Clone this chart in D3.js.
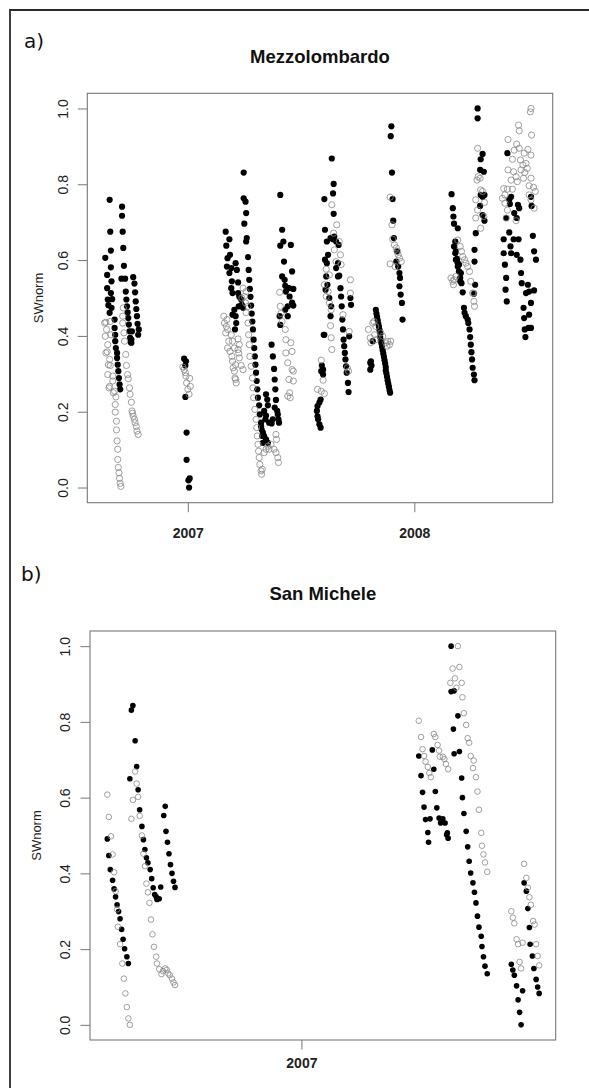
<!DOCTYPE html>
<html>
<head>
<meta charset="utf-8">
<script src="https://cdn.jsdelivr.net/npm/d3@7"></script>
<style>
  html, body { margin: 0; padding: 0; background: #fff; }
  svg { display: block; }
</style>
</head>
<body>
<svg id="chart" width="589" height="1088"></svg>
<script>
// Daily normalised soil water (SWnorm). Each point: [days since 2007-01-01, value].
// Filled = first sensor depth, open = second sensor depth.

const mezzolombardoFilled = [
  [-126,0.759],[-125,0.675],[-124,0.625],[-133,0.606],[-124,0.581],[-130,0.561],[-123,0.544],[-130,0.526],[-124,0.513],[-129,0.496],[-122,0.497],[-128,0.481],[-123,0.474],[-126,0.461],[-118,0.443],[-118,0.421],[-117,0.403],[-117,0.386],[-116,0.368],[-114,0.355],[-114,0.342],[-113,0.324],[-112,0.307],[-111,0.289],[-110,0.272],[-109,0.259],
  [-106,0.741],[-106,0.717],[-105,0.675],[-104,0.632],[-103,0.585],[-107,0.551],[-101,0.551],[-100,0.517],[-99,0.496],[-98,0.478],[-97,0.462],[-96,0.447],[-95,0.430],[-94,0.412],[-93,0.395],[-92,0.383],
  [-88,0.555],[-86,0.538],[-85,0.515],[-84,0.491],[-83,0.471],[-82,0.452],[-81,0.432],[-79,0.417],[-80,0.403],[-90,0.412],[-91,0.390],[-91,0.382],
  [-6,0.340],[-3,0.333],[-4,0.322],[-4,0.239],[-2,0.145],[-2,0.073],[3,0.024],[1,0.019],[2,0.0],
  [61,0.675],[67,0.655],[62,0.638],[68,0.614],[64,0.605],[63,0.583],[70,0.579],[67,0.566],[77,0.592],[79,0.574],[81,0.541],[71,0.544],[70,0.526],[72,0.513],[81,0.513],[83,0.503],[86,0.496],[87,0.482],[82,0.478],[89,0.474],[75,0.469],[72,0.456],[77,0.452],[78,0.434],[76,0.417],
  [90,0.831],[90,0.763],[93,0.754],[94,0.724],[91,0.696],[95,0.658],[94,0.649],[97,0.608],[98,0.574],[99,0.548],[100,0.524],[101,0.503],[102,0.480],[103,0.459],[104,0.438],[105,0.417],[106,0.390],[107,0.368],[108,0.346],[109,0.324],[110,0.303],[111,0.281],[112,0.259],[113,0.237],[115,0.217],[116,0.193],[118,0.171],[119,0.153],[120,0.136],[121,0.118],
  [135,0.377],[137,0.346],[139,0.313],[140,0.285],[141,0.259],[142,0.231],[140,0.211],[144,0.202],[145,0.193],[146,0.180],[147,0.171],[137,0.180],[135,0.169],[126,0.246],[128,0.232],[129,0.217],[123,0.202],[126,0.190],[125,0.180],[131,0.171],[118,0.162],[121,0.145],[123,0.136],[126,0.127],[129,0.118],
  [149,0.772],[152,0.680],[154,0.649],[149,0.638],[166,0.640],[155,0.596],[168,0.570],[152,0.557],[156,0.548],[157,0.532],[163,0.526],[170,0.524],[158,0.517],[164,0.504],[168,0.488],[170,0.480],[161,0.478],[157,0.469],[148,0.452],[161,0.452],[149,0.429],
  [214,0.232],[212,0.224],[209,0.215],[208,0.202],[209,0.188],[210,0.180],[212,0.167],[214,0.158],[216,0.322],[218,0.311],[218,0.298],[215,0.307],[219,0.403],
  [232,0.868],[235,0.801],[234,0.776],[220,0.761],[235,0.722],[221,0.680],[224,0.649],[230,0.658],[234,0.655],[236,0.662],[239,0.649],[243,0.640],[226,0.614],[221,0.601],[224,0.592],[242,0.592],[239,0.579],[242,0.557],[244,0.559],[223,0.557],[225,0.535],[222,0.522],[228,0.500],[231,0.478],[230,0.452],[220,0.403],[246,0.526],[247,0.504],[248,0.478],[249,0.443],[250,0.417],[251,0.390],[252,0.373],[253,0.355],[254,0.338],[255,0.320],[256,0.303],[258,0.276],[259,0.252],[262,0.500],[263,0.482],[260,0.399],
  [298,0.386],[295,0.333],[296,0.322],[294,0.311],[294,0.329],
  [303,0.469],[304,0.459],[305,0.450],[306,0.441],[307,0.432],[308,0.424],[309,0.415],[310,0.406],[310,0.397],[311,0.388],[312,0.380],[313,0.371],[314,0.362],[315,0.353],[316,0.345],[317,0.336],[318,0.327],[319,0.318],[319,0.309],[320,0.301],[321,0.292],[322,0.283],[323,0.274],[324,0.266],[325,0.257],[326,0.250],
  [328,0.953],[327,0.927],[329,0.831],[330,0.761],[331,0.704],[332,0.658],[337,0.623],[336,0.596],[339,0.583],[341,0.566],[342,0.553],[341,0.531],[343,0.509],[345,0.487],[346,0.443],
  [425,0.774],[427,0.737],[428,0.715],[429,0.696],[435,0.684],[431,0.649],[432,0.623],[434,0.603],[435,0.583],[437,0.570],[439,0.553],[443,0.515],[445,0.474],[446,0.461],[448,0.452],[451,0.443],[452,0.434],[454,0.417],[455,0.397],[456,0.377],[457,0.357],[458,0.338],[459,0.316],[461,0.298],[462,0.283],
  [429,0.636],[431,0.618],[432,0.601],[435,0.592],[437,0.588],[440,0.566],[439,0.544],[441,0.539],
  [467,1.0],[467,0.974],[475,0.880],[472,0.866],[471,0.838],[477,0.833],[472,0.772],[475,0.767],[478,0.772],[471,0.743],[475,0.719],[478,0.704],[464,0.671],[462,0.627],[462,0.596],[463,0.535],[461,0.511],
  [515,0.882],[521,0.767],[518,0.759],[513,0.711],[519,0.748],[532,0.746],[534,0.737],[526,0.724],[530,0.711],[553,0.767],[554,0.743],[509,0.655],[518,0.673],[520,0.636],[525,0.655],[533,0.655],[509,0.618],[521,0.618],[530,0.614],[536,0.601],[556,0.664],[558,0.623],[561,0.601],[511,0.588],[513,0.553],[537,0.566],[538,0.539],[548,0.535],[545,0.513],[512,0.522],[514,0.491],[550,0.517],[558,0.520],[553,0.487],[541,0.474],[550,0.456],[542,0.447],[543,0.417],[549,0.421],[544,0.397],[553,0.421]
];

const mezzolombardoOpen = [
  [-132,0.436],[-125,0.438],[-134,0.434],[-133,0.399],[-131,0.417],[-124,0.403],[-129,0.377],[-130,0.358],[-132,0.355],[-126,0.338],[-128,0.324],[-125,0.322],[-129,0.298],[-121,0.294],[-121,0.281],[-126,0.267],[-127,0.263],[-120,0.250],[-118,0.254],[-116,0.239],[-117,0.219],[-117,0.199],[-115,0.175],[-115,0.152],[-114,0.123],[-113,0.101],[-113,0.074],[-112,0.053],[-111,0.039],[-110,0.024],[-109,0.011],[-108,0.003],
  [-105,0.452],[-104,0.474],[-105,0.434],[-103,0.408],[-102,0.386],[-100,0.351],[-99,0.322],[-97,0.298],[-96,0.287],[-94,0.263],[-93,0.246],[-91,0.225],[-90,0.202],[-89,0.196],[-88,0.188],[-86,0.180],[-85,0.171],[-83,0.161],[-82,0.149],[-80,0.140],
  [-8,0.318],[-6,0.311],[-4,0.303],[-3,0.294],[3,0.288],[-2,0.276],[4,0.267],[0,0.259],[2,0.246],
  [58,0.452],[63,0.443],[59,0.434],[62,0.425],[64,0.417],[61,0.408],[70,0.403],[66,0.386],[72,0.386],[81,0.392],[83,0.377],[64,0.368],[75,0.368],[68,0.359],[81,0.364],[82,0.355],[71,0.346],[83,0.342],[72,0.333],[77,0.324],[86,0.322],[73,0.316],[89,0.311],[75,0.307],[76,0.289],[77,0.285],[78,0.276],
  [89,0.526],[94,0.517],[91,0.504],[87,0.500],[93,0.487],[97,0.478],[94,0.461],
  [97,0.434],[98,0.403],[99,0.377],[100,0.346],[102,0.320],[104,0.289],[105,0.263],[106,0.237],[108,0.206],[110,0.180],[111,0.158],[112,0.136],[113,0.114],[114,0.096],[115,0.079],[116,0.061],[118,0.044],[119,0.035],[120,0.048],
  [123,0.092],[126,0.101],[129,0.109],[131,0.101],[134,0.114],[139,0.101],[142,0.092],[145,0.079],[146,0.066],[142,0.140],[143,0.127],
  [148,0.515],[149,0.478],[150,0.459],[152,0.438],[157,0.417],[158,0.390],[166,0.382],[158,0.355],[168,0.359],[161,0.329],[168,0.311],[170,0.307],[163,0.285],[170,0.281],[164,0.250],[161,0.241],[165,0.237],
  [215,0.336],[218,0.283],[209,0.259],[215,0.254],[220,0.248],
  [232,0.746],[240,0.693],[235,0.671],[244,0.649],[236,0.627],[246,0.614],[239,0.596],[247,0.588],[223,0.576],[228,0.561],[220,0.535],[226,0.517],[223,0.504],[228,0.487],[231,0.469],[230,0.427],[231,0.395],[232,0.364],[250,0.456],[262,0.548],[262,0.513],[260,0.412],[259,0.307],[257,0.316],
  [291,0.417],[298,0.434],[294,0.395],[301,0.403],[295,0.382],[303,0.390],[322,0.386],[325,0.377],[327,0.386],[321,0.373],[300,0.438],[311,0.408],[303,0.425],[314,0.399],[319,0.382],
  [326,0.766],[329,0.693],[330,0.655],[333,0.640],[336,0.632],[338,0.623],[339,0.614],[341,0.605],[344,0.596],[326,0.590],[334,0.583],
  [424,0.553],[427,0.544],[429,0.548],[432,0.557],[428,0.535],[435,0.653],[439,0.636],[441,0.623],[443,0.609],[446,0.601],[448,0.592],[451,0.583],[454,0.570],[456,0.544],[459,0.513],[461,0.491],[462,0.478],
  [467,0.895],[468,0.820],[471,0.816],[466,0.811],[472,0.785],[475,0.781],[464,0.759],[467,0.732],[478,0.752],[464,0.711],[477,0.715],[472,0.684],[461,0.513],
  [553,1.0],[552,0.991],[533,0.956],[534,0.941],[554,0.930],[516,0.918],[530,0.906],[526,0.890],[534,0.895],[542,0.882],[548,0.892],[553,0.877],[523,0.866],[536,0.864],[540,0.851],[545,0.855],[547,0.842],[516,0.838],[525,0.833],[537,0.838],[543,0.831],[529,0.820],[521,0.811],[531,0.807],[553,0.816],[541,0.816],[509,0.789],[515,0.787],[511,0.772],[523,0.787],[550,0.796],[557,0.792],[560,0.781],[550,0.772],[553,0.759],[558,0.737],[507,0.763],[511,0.750],[515,0.732],[513,0.711],[529,0.704]
];

const sanMicheleFilled = [
  [-224,0.843],[-226,0.831],[-221,0.750],[-219,0.682],[-228,0.650],[-217,0.621],[-215,0.568],[-212,0.524],
  [-258,0.491],[-256,0.447],[-254,0.410],[-251,0.382],[-249,0.359],[-247,0.338],[-245,0.317],[-243,0.299],[-241,0.280],[-239,0.252],[-237,0.226],[-235,0.201],[-232,0.180],[-230,0.162],
  [-210,0.489],[-208,0.463],[-206,0.441],[-204,0.428],[-201,0.410],[-199,0.386],[-197,0.362],[-195,0.344],[-192,0.331],[-189,0.333],[-187,0.364],[-193,0.338],
  [-181,0.577],[-183,0.553],[-180,0.511],[-178,0.482],[-176,0.452],[-174,0.423],[-172,0.400],[-170,0.379],[-168,0.363],
  [199,1.0],[199,0.880],[203,0.882],[208,0.816],[202,0.781],[203,0.716],[210,0.722],[156,0.710],[174,0.726],[176,0.675],[159,0.658],[213,0.652],[161,0.614],[178,0.616],[214,0.600],[163,0.575],[180,0.573],[216,0.558],[165,0.542],[171,0.544],[183,0.546],[188,0.544],[185,0.533],[191,0.533],[219,0.511],[168,0.508],[194,0.507],[169,0.482],[193,0.502],[195,0.493],
  [221,0.470],[223,0.432],[225,0.401],[228,0.375],[230,0.350],[232,0.322],[234,0.287],[236,0.258],[239,0.234],[240,0.207],[242,0.180],[244,0.155],[247,0.135],
  [296,0.375],[299,0.353],[301,0.307],[303,0.257],[304,0.213],[307,0.182],[309,0.149],[312,0.120],[314,0.100],[316,0.083],[279,0.160],[281,0.145],[283,0.131],[286,0.103],[294,0.090],[288,0.066],[290,0.033],[292,0.0]
];

const sanMicheleOpen = [
  [-258,0.608],[-256,0.549],[-253,0.498],[-251,0.450],[-249,0.403],[-247,0.353],[-245,0.305],[-244,0.259],[-241,0.213],[-238,0.162],[-236,0.122],[-234,0.083],[-232,0.047],[-230,0.017],[-228,0.0],
  [-221,0.669],[-219,0.637],[-224,0.594],[-217,0.602],[-226,0.544],[-215,0.552],[-212,0.500],
  [-210,0.452],[-208,0.419],[-206,0.373],[-204,0.350],[-202,0.322],[-200,0.278],[-198,0.239],[-196,0.206],[-193,0.180],[-192,0.162],[-189,0.147],[-186,0.134],[-184,0.142],[-181,0.149],[-179,0.145],[-177,0.136],[-175,0.131],[-172,0.122],[-170,0.112],[-168,0.105],
  [208,1.0],[201,0.941],[210,0.945],[198,0.903],[204,0.915],[213,0.903],[206,0.890],[214,0.865],[216,0.823],[219,0.792],[156,0.803],[159,0.760],[176,0.768],[178,0.760],[221,0.757],[223,0.745],[161,0.728],[181,0.739],[183,0.724],[163,0.710],[184,0.708],[188,0.708],[190,0.702],[225,0.710],[229,0.698],[165,0.695],[192,0.689],[168,0.681],[195,0.675],[228,0.678],[170,0.665],[172,0.654],[232,0.654],[234,0.616],[236,0.568],[239,0.507],[240,0.473],[242,0.450],[244,0.429],[247,0.404],
  [296,0.425],[299,0.388],[301,0.362],[303,0.337],[305,0.317],[308,0.274],[310,0.265],[312,0.213],[314,0.182],[316,0.157],[279,0.300],[281,0.283],[283,0.268],[286,0.226],[288,0.213],[294,0.217],[290,0.166],[292,0.149]
];

const yTicks = [0, 0.2, 0.4, 0.6, 0.8, 1.0];
const yearTicks = ["2007", "2008"];
const yLabel = "SWnorm";

const origin = Date.UTC(2007, 0, 1);
const toDate = d => d3.utcDay.offset(new Date(origin), d);

const svg = d3.select("#chart");

// outer figure frame
svg.append("path")
  .attr("d", "M10,1100 L10,10 L600,10")
  .attr("fill", "none")
  .attr("stroke", "#2a2a2a")
  .attr("stroke-width", 1.8);

function drawPanel(cfg) {
  const g = svg.append("g");
  const all = cfg.filled.concat(cfg.open);
  const ext = d3.extent(all, d => d[0]);
  const pad = (ext[1] - ext[0]) * 0.04;

  const x = d3.scaleUtc()
    .domain([toDate(ext[0] - pad), toDate(ext[1] + pad)])
    .range([cfg.left, cfg.right]);
  const y = d3.scaleLinear()
    .domain([-0.04, 1.04])
    .range([cfg.bottom, cfg.top]);

  // panel tag and title
  g.append("text")
    .attr("x", cfg.tagX).attr("y", cfg.tagY)
    .attr("font-family", "DejaVu Sans, sans-serif")
    .attr("font-size", 20)
    .attr("fill", "#111")
    .text(cfg.tag);
  g.append("text")
    .attr("x", (cfg.left + cfg.right) / 2).attr("y", cfg.titleY)
    .attr("text-anchor", "middle")
    .attr("font-family", "Liberation Sans, Arial, sans-serif")
    .attr("font-weight", "bold")
    .attr("font-size", 18.5)
    .attr("fill", "#111")
    .text(cfg.title);

  // y axis
  const yAxis = g.append("g")
    .attr("transform", `translate(${cfg.left},0)`)
    .call(d3.axisLeft(y).tickValues(yTicks).tickFormat(d3.format(".1f")).tickSize(9.5));
  yAxis.select(".domain").remove();
  yAxis.selectAll(".tick line").attr("stroke", "#777");
  yAxis.selectAll(".tick text")
    .attr("x", null).attr("dy", null)
    .attr("transform", `translate(${cfg.yLabelOffset},0) rotate(-90)`)
    .attr("text-anchor", "middle")
    .attr("font-family", "Liberation Sans, Arial, sans-serif")
    .attr("font-size", 14)
    .attr("fill", "#222");

  // x axis (year ticks inside the time range)
  const [d0, d1] = x.domain();
  const yearDates = yearTicks.map(t => new Date(Date.UTC(+t, 0, 1))).filter(t => t >= d0 && t <= d1);
  const xAxis = g.append("g")
    .attr("transform", `translate(0,${cfg.bottom})`)
    .call(d3.axisBottom(x).tickValues(yearDates).tickFormat(d3.utcFormat("%Y")).tickSize(9.5));
  xAxis.select(".domain").remove();
  xAxis.selectAll(".tick line").attr("stroke", "#777");
  xAxis.selectAll(".tick text")
    .attr("y", cfg.xLabelOffset).attr("dy", null)
    .attr("font-family", "Liberation Sans, Arial, sans-serif")
    .attr("font-weight", "bold")
    .attr("font-size", 14)
    .attr("fill", "#222");

  // axis title
  g.append("text")
    .attr("transform", `translate(${cfg.yTitleX},${(cfg.top + cfg.bottom) / 2}) rotate(-90)`)
    .attr("text-anchor", "middle")
    .attr("font-family", "Liberation Sans, Arial, sans-serif")
    .attr("font-size", 13)
    .attr("fill", "#222")
    .text(yLabel);

  // plot box
  g.append("rect")
    .attr("x", cfg.left).attr("y", cfg.top)
    .attr("width", cfg.right - cfg.left).attr("height", cfg.bottom - cfg.top)
    .attr("fill", "none").attr("stroke", "#777").attr("stroke-width", 1.1);

  g.append("g").selectAll("circle")
    .data(cfg.filled).join("circle")
    .attr("cx", d => x(toDate(d[0])))
    .attr("cy", d => y(d[1]))
    .attr("r", cfg.r)
    .attr("fill", "#000");

  g.append("g").selectAll("circle")
    .data(cfg.open).join("circle")
    .attr("cx", d => x(toDate(d[0])))
    .attr("cy", d => y(d[1]))
    .attr("r", cfg.r)
    .attr("fill", "none")
    .attr("stroke", "#888")
    .attr("stroke-width", 0.8);
}

drawPanel({
  tag: "a)", tagX: 24, tagY: 48,
  title: "Mezzolombardo", titleY: 63,
  left: 87.3, right: 552.7, top: 93.3, bottom: 502.7,
  yLabelOffset: -19, xLabelOffset: 35, yTitleX: 43,
  r: 3.1,
  filled: mezzolombardoFilled, open: mezzolombardoOpen
});

drawPanel({
  tag: "b)", tagX: 21, tagY: 581,
  title: "San Michele", titleY: 600,
  left: 90, right: 555.7, top: 631, bottom: 1040,
  yLabelOffset: -20, xLabelOffset: 28, yTitleX: 41,
  r: 2.8,
  filled: sanMicheleFilled, open: sanMicheleOpen
});
</script>
</body>
</html>
